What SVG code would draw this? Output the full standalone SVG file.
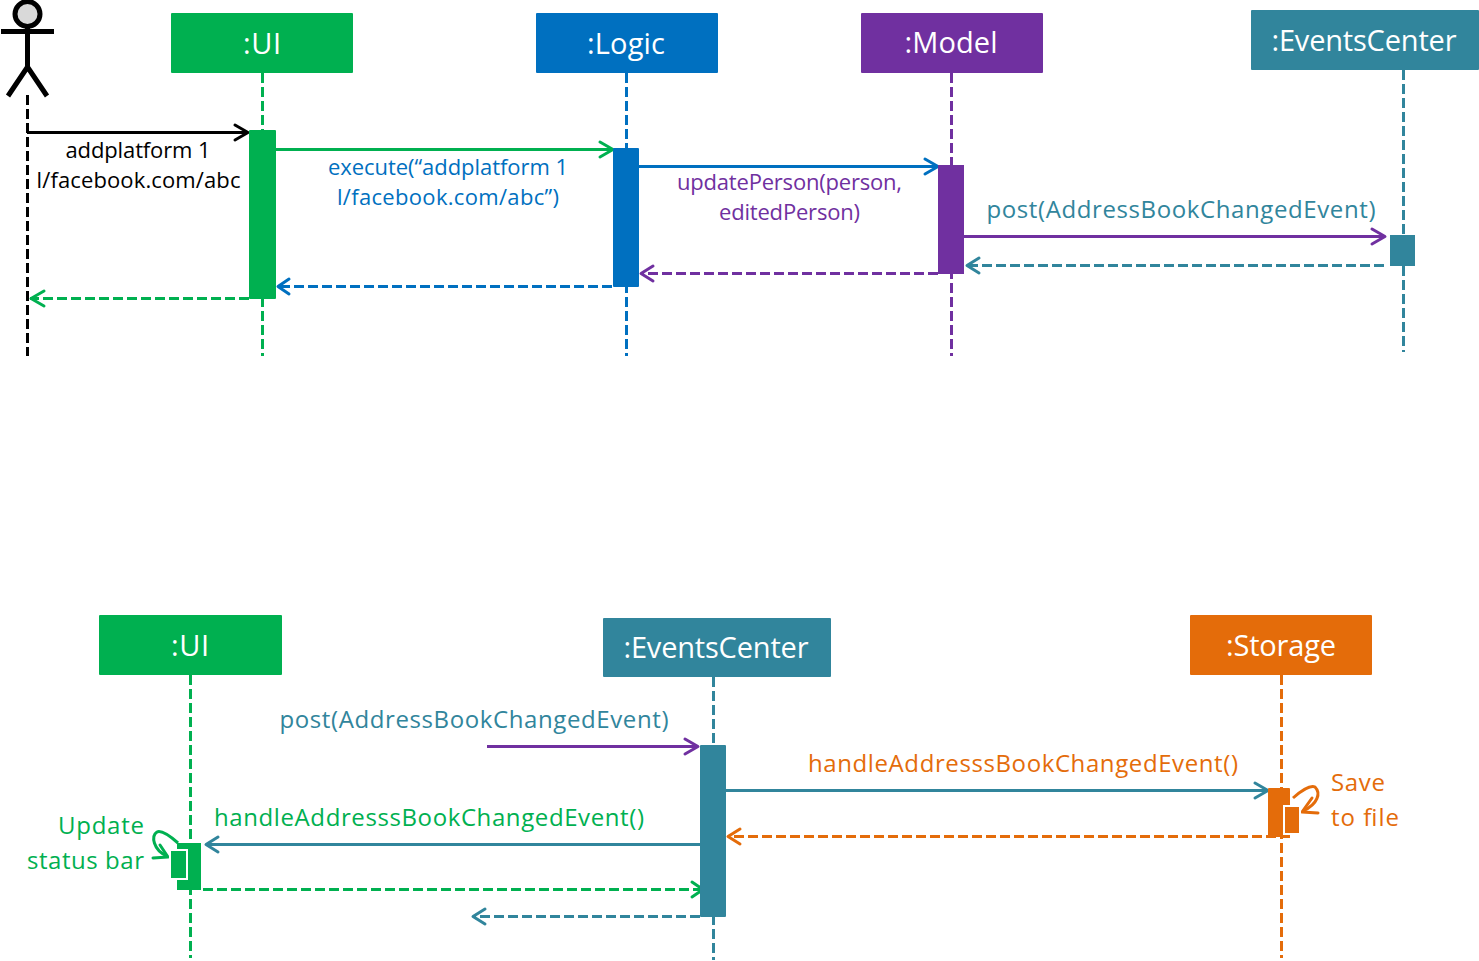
<svg xmlns="http://www.w3.org/2000/svg" width="1479" height="961" viewBox="0 0 1479 961">
<style>
text{font-family:"Open Sans","Noto Sans",sans-serif;font-size:22px}
.h{font-size:29px;fill:#fff;text-anchor:middle}
.m{text-anchor:middle}
.g{fill:#00B050}.b{fill:#0070C0}.p{fill:#7030A0}.t{fill:#31859C}.o{fill:#E46C0A}.k{fill:#000}
.big{font-size:24px}
.l{fill:none;stroke-width:3}
.d{stroke-dasharray:10 4}
.sg{stroke:#00B050}.sb{stroke:#0070C0}.sp{stroke:#7030A0}.st{stroke:#31859C}.so{stroke:#E46C0A}.sk{stroke:#000}
.ah{fill:none;stroke-width:3;stroke-linecap:round;stroke-linejoin:round}
</style>
<rect width="1479" height="961" fill="#fff"/>
<g id="connectors">
<path class="l d sk" d="M27.500 95V356"/>
<path class="l d sg" d="M262.500 73V356"/>
<path class="l d sb" d="M626.500 73V356"/>
<path class="l d sp" d="M951.500 73V356"/>
<path class="l d st" d="M1403.500 70V352"/>
<path class="l d sg" d="M190.500 675V958"/>
<path class="l d st" d="M713.500 677V960"/>
<path class="l d so" d="M1281.500 675V958"/>

<path class="l sk" d="M27 132.500H247"/><path class="ah sk" d="M235 125L248 132.500L235 140"/>
<path class="l sg" d="M276 149.500H612"/><path class="ah sg" d="M600 142L613 149.500L600 157"/>
<path class="l sb" d="M639 166.500H937"/><path class="ah sb" d="M925 159L938 166.500L925 174"/>
<path class="l sp" d="M964 236.500H1384"/><path class="ah sp" d="M1372 229L1385 236.500L1372 244"/>
<path class="l d st" d="M1384 265.500H967"/><path class="ah st" d="M979 258L967 265.500L979 273"/>
<path class="l d sp" d="M938 273.500H641"/><path class="ah sp" d="M653 266L641 273.500L653 281"/>
<path class="l d sb" d="M612 286.500H278"/><path class="ah sb" d="M289 279L278 286.500L289 294"/>
<path class="l d sg" d="M249 298.500H30"/><path class="ah sg" d="M44 291L31 298.500L44 306"/>

<path class="l sp" d="M487 746.500H697"/><path class="ah sp" d="M685 739L698 746.500L685 754"/>
<path class="l st" d="M726 790.500H1268"/><path class="ah st" d="M1255 783L1268 790.500L1255 798"/>
<path class="l d so" d="M1290 836.500H728"/><path class="ah so" d="M740 829L728 836.500L740 844"/>
<path class="l st" d="M700 844.500H206"/><path class="ah st" d="M218 837L206 844.500L218 852"/>
<path class="l d sg" d="M203 889.500H702"/><path class="ah sg" d="M692 882L703 889.500L692 897"/>
<path class="l d st" d="M700 916.500H473"/><path class="ah st" d="M485 909L473 916.500L485 924"/>

<path class="l sg" d="M178 843C170 836 161 830 157 832C151 836 153 850 167 856"/><path class="ah sg" d="M153 858L168 857L160 845"/>
<path class="l so" d="M1293 798C1302 790 1311 785 1315 787C1321 793 1318 804 1303 811"/><path class="ah so" d="M1318 813L1302 812L1312 798"/>
</g>
<g id="actor" fill="none" stroke="#000" stroke-width="5">
<circle cx="27.500" cy="14" r="12.500" fill="#D9D9D9"/>
<path d="M1 31.500H54M27.500 27V67M27.500 67L8 96M27.500 67L47 96"/>
</g>
<g id="ui-top"><rect x="171" y="13" width="182" height="60" rx="1" class="g"/><text x="262" y="54" class="h" textLength="38">:UI</text></g>
<g id="logic"><rect x="536" y="13" width="182" height="60" rx="1" class="b"/><text x="626" y="54" class="h" textLength="78">:Logic</text></g>
<g id="model"><rect x="861" y="13" width="182" height="60" rx="1" class="p"/><text x="951" y="53" class="h" textLength="93">:Model</text></g>
<g id="events-top"><rect x="1251" y="10" width="228" height="60" rx="1" class="t"/><text x="1364" y="51" class="h" textLength="185">:EventsCenter</text></g>
<g id="ui-bottom"><rect x="99" y="615" width="183" height="60" rx="1" class="g"/><text x="190" y="656" class="h" textLength="38">:UI</text></g>
<g id="events-bottom"><rect x="603" y="618" width="228" height="59" rx="1" class="t"/><text x="716" y="658" class="h" textLength="185">:EventsCenter</text></g>
<g id="storage"><rect x="1190" y="615" width="182" height="60" rx="1" class="o"/><text x="1281" y="656" class="h" textLength="110">:Storage</text></g>

<g id="activations">
<rect x="249" y="130" width="27" height="169" rx="1" class="g"/>
<rect x="613" y="148" width="26" height="139" rx="1" class="b"/>
<rect x="938" y="165" width="26" height="109" class="p"/>
<rect x="1390" y="235" width="25" height="31" class="t"/>
<rect x="700" y="745" width="26" height="172" rx="1" class="t"/>
<rect x="177" y="843" width="24" height="47" class="g"/>
<rect x="170" y="850" width="17" height="29" class="g" stroke="#fff" stroke-width="2"/>
<rect x="1268" y="788" width="22" height="49" rx="1" class="o"/>
<rect x="1284" y="806" width="16" height="28" class="o" stroke="#fff" stroke-width="2"/>
</g>
<g id="labels">
<text x="138" y="158" class="m k" textLength="145">addplatform 1</text>
<text x="138.500" y="188" class="m k" textLength="204">l/facebook.com/abc</text>
<text x="448" y="175" class="m b" textLength="240">execute(“addplatform 1</text>
<text x="448" y="205" class="m b" textLength="222">l/facebook.com/abc”)</text>
<text x="789.500" y="190" class="m p" textLength="225">updatePerson(person,</text>
<text x="789.500" y="220" class="m p" textLength="141">editedPerson)</text>
<text x="1181" y="218" class="m t big" textLength="389">post(AddressBookChangedEvent)</text>
<text x="474" y="728" class="m t big" textLength="389">post(AddressBookChangedEvent)</text>
<text x="1023" y="772" class="m o big" textLength="430">handleAddresssBookChangedEvent()</text>
<text x="429" y="826" class="m g big" textLength="430">handleAddresssBookChangedEvent()</text>
<text x="144" y="834" text-anchor="end" class="g big" textLength="86">Update</text>
<text x="144" y="869" text-anchor="end" class="g big" textLength="117">status bar</text>
<text x="1331" y="791" class="o big" textLength="54">Save</text>
<text x="1331" y="826" class="o big" textLength="68">to file</text>
</g>
</svg>
